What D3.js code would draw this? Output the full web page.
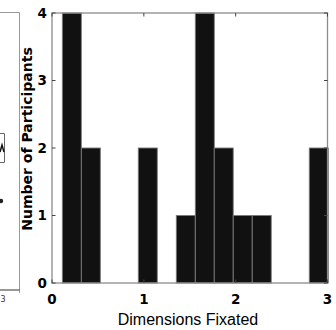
<!DOCTYPE html>
<html>
<head>
<meta charset="utf-8">
<script src="https://cdn.jsdelivr.net/npm/d3@7"></script>
<style>
html,body{margin:0;padding:0;background:#fff;}
svg{display:block;}
</style>
</head>
<body>
<svg id="chart" width="336" height="330"></svg>
<script>
// Histogram data (bin centres)
const binCenters = [0.216, 0.423, 0.630, 0.836, 1.043, 1.250, 1.457, 1.664, 1.870, 2.077, 2.284, 2.491, 2.698, 2.905];
const counts     = [4, 2, 0, 0, 2, 0, 1, 4, 2, 1, 1, 0, 0, 2];
const binWidth = 0.2068;
const xTicks = [0, 1, 2, 3];
const yTicks = [0, 1, 2, 3, 4];
const xLabel = "Dimensions Fixated";
const yLabel = "Number of Participants";

const svg = d3.select("#chart");
const L = 52, R = 327.5, T = 13, B = 283;
const x = d3.scaleLinear().domain([0, 3]).range([L, R]);
const y = d3.scaleLinear().domain([0, 4]).range([B, T]);

// fragment of neighbouring panel on the left
const frag = svg.append("g");
frag.append("line").attr("x1", 0).attr("x2", 19.5).attr("y1", 12.5).attr("y2", 12.5).attr("stroke", "#999").attr("stroke-width", 1);
frag.append("line").attr("x1", 19.5).attr("x2", 19.5).attr("y1", 12.5).attr("y2", 293).attr("stroke", "#999").attr("stroke-width", 1);
frag.append("line").attr("x1", 0).attr("x2", 19.5).attr("y1", 290).attr("y2", 290).attr("stroke", "#333").attr("stroke-width", 1);
frag.append("path").attr("d", "M0,133.5H4.5V162.5H0").attr("fill", "none").attr("stroke", "#666").attr("stroke-width", 1);
frag.append("path").attr("d", "M0,152L2,145L4,152").attr("fill", "none").attr("stroke", "#111").attr("stroke-width", 1.5);
frag.append("circle").attr("cx", 1).attr("cy", 201).attr("r", 2.2).attr("fill", "#222");
frag.append("text").attr("x", 0.5).attr("y", 302).attr("font-family", "DejaVu Sans").attr("font-size", 8).attr("fill", "#333").text("3");

// bars
svg.append("g").selectAll("rect")
  .data(binCenters.map((c, i) => ({c, v: counts[i]})).filter(d => d.v > 0))
  .join("rect")
  .attr("x", d => x(d.c - binWidth / 2))
  .attr("width", d => x(d.c + binWidth / 2) - x(d.c - binWidth / 2))
  .attr("y", d => y(d.v))
  .attr("height", d => y(0) - y(d.v))
  .attr("fill", "#111")
  .attr("stroke", "#7a7a7a")
  .attr("stroke-width", 0.9);

// box
svg.append("rect").attr("x", L).attr("y", T).attr("width", R - L).attr("height", B - T)
  .attr("fill", "none").attr("stroke", "#8c8c8c").attr("stroke-width", 1.3);

// ticks (inward, on all four sides)
const tk = 3.5;
const tg = svg.append("g").attr("stroke", "#444").attr("stroke-width", 1);
xTicks.forEach(t => {
  tg.append("line").attr("x1", x(t)).attr("x2", x(t)).attr("y1", T).attr("y2", T + tk);
  tg.append("line").attr("x1", x(t)).attr("x2", x(t)).attr("y1", B).attr("y2", B - tk);
});
yTicks.forEach(t => {
  tg.append("line").attr("x1", L).attr("x2", L + tk).attr("y1", y(t)).attr("y2", y(t));
  tg.append("line").attr("x1", R).attr("x2", R - tk).attr("y1", y(t)).attr("y2", y(t));
});

// tick labels
const tf = "DejaVu Sans";
svg.append("g").selectAll("text").data(xTicks).join("text")
  .attr("x", d => x(d)).attr("y", 304)
  .attr("text-anchor", "middle")
  .attr("font-family", tf).attr("font-weight", "bold").attr("font-size", 13.5)
  .attr("fill", "#000").text(d => d);
svg.append("g").selectAll("text").data(yTicks).join("text")
  .attr("x", 47).attr("y", d => y(d) + 4.8)
  .attr("text-anchor", "end")
  .attr("font-family", tf).attr("font-weight", "bold").attr("font-size", 13.5)
  .attr("fill", "#000").text(d => d);

// axis titles
svg.append("text").attr("x", 188).attr("y", 325)
  .attr("text-anchor", "middle")
  .attr("font-family", "Liberation Sans, Arial, sans-serif").attr("font-size", 16)
  .attr("fill", "#000").text(xLabel);
svg.append("text").attr("transform", "translate(32,139) rotate(-90)")
  .attr("text-anchor", "middle")
  .attr("font-family", tf).attr("font-weight", "bold").attr("font-size", 14)
  .attr("fill", "#000").text(yLabel);
</script>
</body>
</html>
